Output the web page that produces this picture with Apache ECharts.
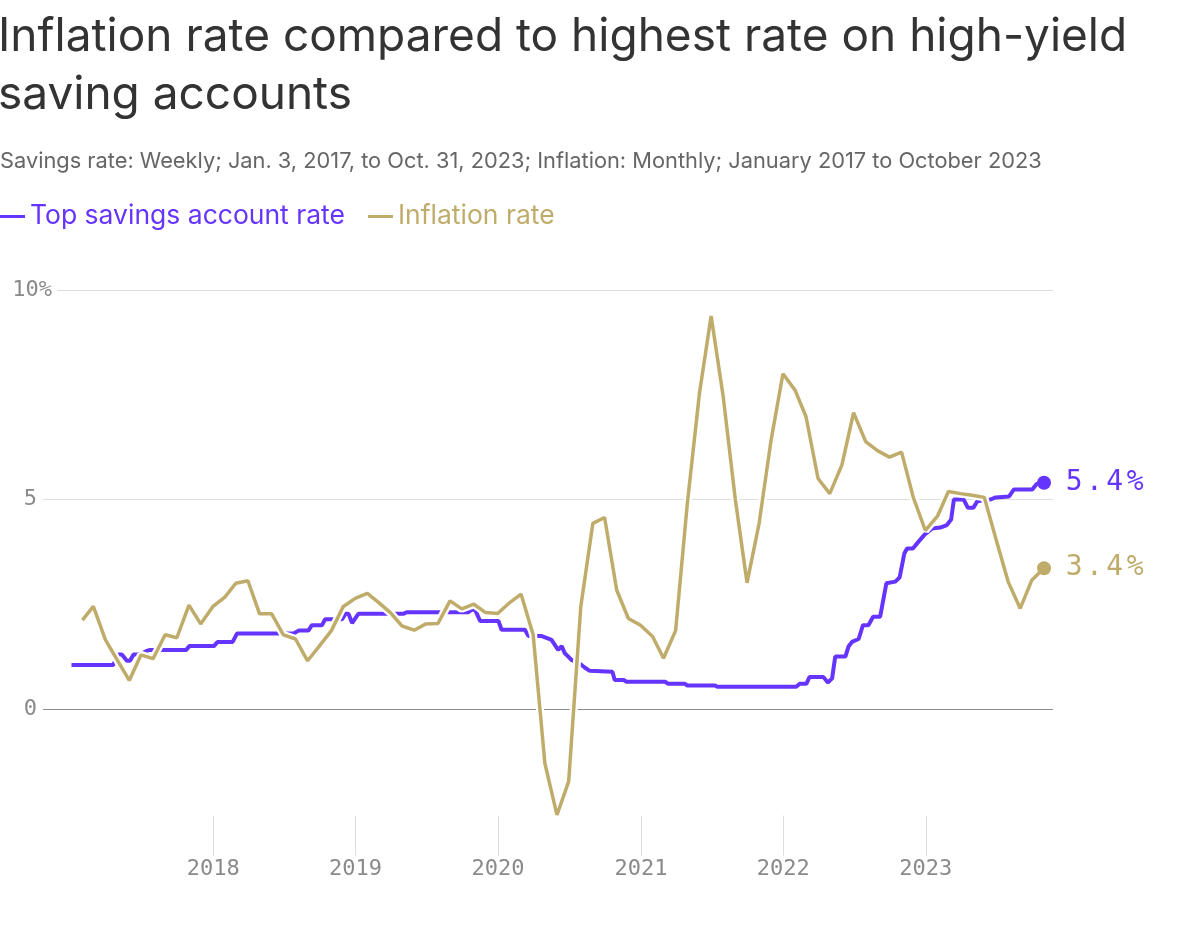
<!DOCTYPE html>
<html>
<head>
<meta charset="utf-8">
<script src="https://cdn.jsdelivr.net/npm/echarts@6/dist/echarts.min.js"></script>
<style>
  html, body { margin: 0; padding: 0; background: #fff; }
  #chart { width: 1204px; height: 930px; }
</style>
</head>
<body>
<div id="chart"></div>
<script>
// ---------- DATA ----------
const titleText = 'Inflation rate compared to highest rate on high-yield\nsaving accounts';
const subtitleText = 'Savings rate: Weekly; Jan. 3, 2017, to Oct. 31, 2023; Inflation: Monthly; January 2017 to October 2023';
const seriesNames = ['Top savings account rate', 'Inflation rate'];

// Top savings account rate: weekly series, points where the line changes
const savingsDates = [
  '2017-01-03','2017-04-20','2017-05-03','2017-05-12','2017-05-25','2017-06-02','2017-06-11','2017-06-28',
  '2017-07-13','2017-07-23','2017-10-24','2017-11-01','2018-01-03','2018-01-12','2018-02-20','2018-03-03',
  '2018-07-26','2018-08-08','2018-09-02','2018-09-11','2018-10-07','2018-10-15','2018-11-27','2018-12-06',
  '2018-12-14','2018-12-23','2019-01-08','2019-05-03','2019-05-12','2019-10-17','2019-10-26','2019-11-03',
  '2019-11-16','2020-01-02','2020-01-10','2020-03-10','2020-03-19','2020-04-22','2020-05-09','2020-05-17',
  '2020-06-03','2020-06-12','2020-06-20','2020-06-29','2020-07-07','2020-07-29','2020-08-10','2020-08-23',
  '2020-10-20','2020-10-26','2020-11-18','2020-11-25','2021-03-04','2021-03-12','2021-04-24','2021-04-30',
  '2021-07-10','2021-07-16','2022-02-03','2022-02-12','2022-03-01','2022-03-09','2022-04-14','2022-04-25',
  '2022-05-06','2022-05-14','2022-06-09','2022-06-17','2022-06-26','2022-07-13','2022-07-24','2022-08-07',
  '2022-08-19','2022-09-06','2022-09-22','2022-10-15','2022-10-26','2022-11-07','2022-11-14','2022-11-29',
  '2022-12-14','2022-12-28','2023-01-17','2023-02-07','2023-02-24','2023-03-07','2023-03-14','2023-04-08',
  '2023-04-19','2023-05-03','2023-05-13','2023-06-16','2023-06-29','2023-08-02','2023-08-15','2023-10-01',
  '2023-10-12','2023-10-31'
];
const savingsValues = [
  1.05,1.05,1.30,1.30,1.15,1.15,1.30,1.30,
  1.38,1.41,1.41,1.50,1.50,1.60,1.60,1.80,
  1.80,1.87,1.87,2.00,2.00,2.14,2.14,2.27,
  2.27,2.05,2.27,2.27,2.31,2.31,2.37,2.37,
  2.10,2.10,1.89,1.89,1.74,1.74,1.68,1.65,
  1.41,1.50,1.33,1.25,1.17,1.08,0.99,0.91,
  0.89,0.69,0.69,0.65,0.65,0.60,0.60,0.56,
  0.56,0.53,0.53,0.60,0.60,0.76,0.76,0.63,
  0.73,1.25,1.25,1.49,1.60,1.67,2.00,2.00,
  2.20,2.20,3.00,3.04,3.14,3.71,3.83,3.83,
  4.00,4.15,4.31,4.33,4.39,4.52,5.00,5.00,
  4.80,4.80,4.96,5.00,5.05,5.07,5.24,5.24,
  5.37,5.40
];

// Inflation rate: monthly, January 2017 to October 2023
const inflationMonths = [
  '2017-01','2017-02','2017-03','2017-04','2017-05','2017-06','2017-07','2017-08','2017-09','2017-10','2017-11','2017-12',
  '2018-01','2018-02','2018-03','2018-04','2018-05','2018-06','2018-07','2018-08','2018-09','2018-10','2018-11','2018-12',
  '2019-01','2019-02','2019-03','2019-04','2019-05','2019-06','2019-07','2019-08','2019-09','2019-10','2019-11','2019-12',
  '2020-01','2020-02','2020-03','2020-04','2020-05','2020-06','2020-07','2020-08','2020-09','2020-10','2020-11','2020-12',
  '2021-01','2021-02','2021-03','2021-04','2021-05','2021-06','2021-07','2021-08','2021-09','2021-10','2021-11','2021-12',
  '2022-01','2022-02','2022-03','2022-04','2022-05','2022-06','2022-07','2022-08','2022-09','2022-10','2022-11','2022-12',
  '2023-01','2023-02','2023-03','2023-04','2023-05','2023-06','2023-07','2023-08','2023-09','2023-10'
];
const inflationValues = [
  2.12,2.45,1.65,1.17,0.68,1.29,1.20,1.77,1.70,2.48,2.03,2.44,
  2.67,3.00,3.06,2.27,2.27,1.77,1.67,1.15,1.50,1.87,2.44,2.64,
  2.76,2.55,2.30,1.98,1.88,2.03,2.04,2.58,2.39,2.50,2.30,2.28,
  2.54,2.74,1.77,-1.30,-2.53,-1.73,2.44,4.43,4.57,2.84,2.16,2.00,
  1.73,1.21,1.87,4.90,7.53,9.38,7.45,5.00,3.01,4.43,6.38,8.00,
  7.61,6.98,5.50,5.14,5.82,7.07,6.38,6.16,6.01,6.13,5.05,4.26,
  4.60,5.19,5.14,5.10,5.05,4.05,3.04,2.40,3.08,3.36
];

const yearTicks = [2018, 2019, 2020, 2021, 2022, 2023];
const yTicks = [0, 5, 10];
const endLabels = ['5.4%', '3.4%'];

// ---------- BUILD ----------
const PURPLE = '#6534ff';
const GOLD = '#bfac6b';

function parseDay(s) { const p = s.split('-').map(Number); return Date.UTC(p[0], p[1] - 1, p[2]); }
function monthEnd(s) { const p = s.split('-').map(Number); return Date.UTC(p[0], p[1], 0); }
// monospace end label with wide character cells
function spaced(txt) { return txt.split('').map(c => '{c|' + c + '}').join(''); }

const savingsData = savingsDates.map((d, i) => {
  const item = { value: [parseDay(d), savingsValues[i]] };
  if (i === savingsDates.length - 1) {
    item.symbol = 'circle';
    item.symbolSize = 14;
    item.label = { show: true, formatter: spaced(endLabels[0]) };
  }
  return item;
});
const inflationData = inflationMonths.map((m, i) => {
  const item = { value: [monthEnd(m), inflationValues[i]] };
  if (i === inflationMonths.length - 1) {
    item.symbol = 'circle';
    item.symbolSize = 14;
    item.label = { show: true, formatter: spaced(endLabels[1]) };
  }
  return item;
});
const inflationHalo = inflationMonths.map((m, i) => [monthEnd(m), inflationValues[i]]);

const monoFont = 'DejaVu Sans Mono';
const sansFont = 'Inter';
const yearTickValues = yearTicks.map(y => Date.UTC(y, 0, 1));

function endLabelStyle(color) {
  return {
    position: 'right', distance: 13,
    rich: { c: { fontFamily: monoFont, fontSize: 28, color: color, width: 20.3, align: 'center' } }
  };
}

const chart = echarts.init(document.getElementById('chart'), null, { renderer: 'canvas' });
chart.setOption({
  animation: false,
  backgroundColor: '#fff',
  title: [
    {
      text: titleText, left: -2, top: 8, padding: 0,
      textStyle: { fontFamily: sansFont, fontSize: 46, fontWeight: 'normal', color: '#333', lineHeight: 58 }
    },
    {
      text: subtitleText, left: 0, top: 150, padding: 0,
      textStyle: { fontFamily: sansFont, fontSize: 21.8, fontWeight: 'normal', color: '#666' }
    }
  ],
  legend: {
    left: 0, top: 203, padding: 0,
    icon: 'rect', itemWidth: 25, itemHeight: 3, itemGap: 23,
    textStyle: { fontFamily: sansFont, fontSize: 26.5 },
    data: [
      { name: seriesNames[0], textStyle: { color: PURPLE } },
      { name: seriesNames[1], textStyle: { color: GOLD } }
    ]
  },
  grid: { left: 43, right: 151, top: 290, bottom: 74.4, containLabel: false },
  xAxis: {
    type: 'value',
    min: Date.UTC(2016, 9, 22),
    max: Date.UTC(2023, 10, 23),
    axisLine: { show: false, onZero: false },
    axisTick: {
      show: true, inside: true, length: 40,
      lineStyle: { color: '#dddddd', width: 1 },
      customValues: yearTickValues
    },
    axisLabel: {
      customValues: yearTickValues,
      formatter: v => String(new Date(v).getUTCFullYear()),
      fontFamily: monoFont, fontSize: 22, color: '#8a8a8a', margin: 3
    },
    splitLine: { show: false }
  },
  yAxis: {
    type: 'value',
    min: -3.5, max: 10,
    axisLine: { show: false },
    axisTick: { show: false, customValues: yTicks },
    axisLabel: {
      customValues: yTicks,
      margin: -14,
      align: 'right',
      formatter: v => v === 10 ? '{t|10%}' : '{n|' + v + '}',
      rich: {
        t: { fontFamily: monoFont, fontSize: 22, color: '#8a8a8a', backgroundColor: '#fff', padding: [2, 5, 2, 0] },
        n: { fontFamily: monoFont, fontSize: 22, color: '#8a8a8a', padding: [2, 20, 2, 0] }
      }
    },
    splitLine: { show: true, lineStyle: { color: ['#8c8c8c', '#dddddd', '#dddddd'], width: 1 } }
  },
  series: [
    {
      name: seriesNames[0], type: 'line', z: 2,
      data: savingsData,
      symbol: 'none', showSymbol: true,
      itemStyle: { color: PURPLE },
      lineStyle: { color: PURPLE, width: 4 },
      label: endLabelStyle(PURPLE),
      emphasis: { disabled: true }
    },
    {
      type: 'line', z: 3, silent: true,
      data: inflationHalo,
      symbol: 'none',
      lineStyle: { color: '#ffffff', width: 8 },
      emphasis: { disabled: true }
    },
    {
      name: seriesNames[1], type: 'line', z: 4,
      data: inflationData,
      symbol: 'none', showSymbol: true,
      itemStyle: { color: GOLD },
      lineStyle: { color: GOLD, width: 3.5 },
      label: endLabelStyle(GOLD),
      emphasis: { disabled: true }
    }
  ]
});
</script>
</body>
</html>
